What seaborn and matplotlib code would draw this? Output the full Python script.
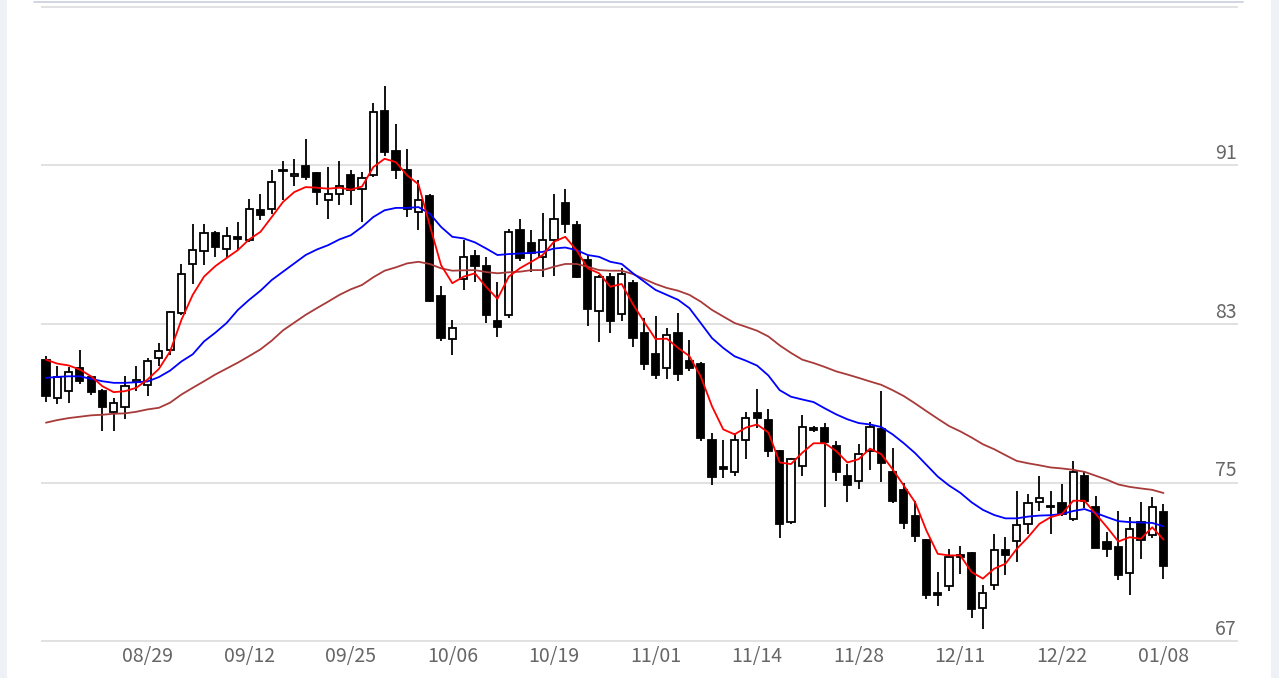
import matplotlib
matplotlib.use('Agg')
import matplotlib.pyplot as plt
import seaborn as sns
import numpy as np
import pandas as pd
from matplotlib.lines import Line2D
from matplotlib.patches import Rectangle

# ---------------- data ----------------
opens = [81.20, 79.28, 79.61, 80.78, 80.33, 79.61, 78.57, 78.80, 80.05, 79.94,
         81.29, 81.67, 83.58, 86.03, 86.69, 87.60, 86.81, 87.40, 87.23, 88.74,
         88.82, 90.78, 90.45, 90.95, 90.61, 89.24, 89.58, 90.53, 89.83, 90.50,
         93.76, 91.72, 90.78, 88.65, 89.44, 84.43, 82.24, 85.29, 86.44, 85.94,
         83.16, 83.43, 87.73, 87.10, 86.36, 87.23, 89.11, 87.98, 86.23, 83.68,
         85.39, 83.51, 85.06, 82.57, 81.49, 80.78, 82.57, 81.12, 80.99, 77.15,
         75.80, 75.54, 77.15, 78.52, 78.15, 76.59, 73.03, 75.81, 77.77, 77.77,
         76.85, 75.31, 75.07, 76.59, 77.72, 75.54, 74.63, 73.30, 72.12, 69.40,
         69.79, 71.32, 71.44, 68.67, 69.84, 71.57, 72.07, 72.91, 74.00, 73.83,
         73.96, 73.16, 75.31, 73.78, 71.99, 71.74, 70.45, 73.03, 72.36, 73.53]
highs = [81.37, 80.90, 80.81, 81.70, 80.35, 79.73, 79.28, 80.40, 80.86, 81.29,
         82.04, 83.68, 86.03, 88.07, 88.07, 87.70, 87.90, 88.15, 89.33, 89.58,
         90.75, 91.22, 91.34, 92.34, 90.65, 90.92, 91.25, 90.75, 90.66, 94.13,
         95.02, 93.10, 91.84, 90.28, 89.58, 84.92, 83.21, 87.23, 86.73, 86.36,
         85.14, 87.82, 88.32, 87.73, 88.60, 89.54, 89.83, 88.20, 86.48, 85.45,
         85.59, 85.81, 85.22, 83.30, 83.41, 82.79, 83.58, 82.21, 81.07, 77.48,
         77.15, 77.52, 78.55, 79.73, 78.72, 76.64, 76.23, 78.39, 77.85, 78.02,
         77.07, 75.93, 76.93, 78.05, 79.61, 76.72, 74.97, 74.08, 72.14, 70.48,
         71.62, 71.82, 71.48, 69.81, 72.41, 72.24, 74.58, 74.42, 75.34, 74.58,
         74.92, 76.09, 75.59, 74.33, 72.52, 73.58, 73.25, 74.00, 74.25, 73.91]
lows = [79.06, 78.94, 79.03, 79.99, 79.44, 77.60, 77.60, 78.19, 79.61, 79.36,
        80.86, 81.45, 83.46, 85.02, 85.97, 86.39, 86.31, 86.73, 87.15, 88.24,
        88.57, 89.24, 89.94, 90.25, 88.99, 88.32, 88.99, 88.99, 88.15, 90.41,
        91.50, 90.33, 88.40, 87.73, 84.10, 82.12, 81.45, 84.72, 85.14, 83.07,
        82.34, 83.29, 86.20, 85.64, 85.39, 85.42, 87.57, 85.30, 82.91, 82.07,
        82.57, 83.13, 81.84, 80.70, 80.23, 80.20, 80.11, 80.61, 77.10, 74.87,
        75.21, 75.31, 76.21, 77.73, 76.29, 72.19, 72.91, 75.35, 77.55, 73.78,
        75.07, 74.04, 74.67, 75.64, 75.04, 73.96, 72.66, 71.99, 69.11, 68.77,
        69.51, 70.40, 68.17, 67.63, 69.56, 70.31, 70.98, 72.41, 73.58, 72.41,
        73.33, 73.08, 73.70, 71.69, 71.24, 70.06, 69.31, 71.12, 72.19, 70.15]
closes = [79.36, 80.33, 80.58, 80.11, 79.56, 78.82, 79.03, 79.86, 80.15, 81.12,
          81.62, 83.60, 85.52, 86.73, 87.57, 86.89, 87.45, 87.30, 88.82, 88.49,
          90.16, 90.70, 90.58, 90.41, 89.66, 89.58, 89.99, 89.74, 90.36, 93.68,
          91.67, 90.75, 88.82, 89.28, 84.17, 82.29, 82.82, 86.36, 85.94, 83.46,
          82.87, 87.65, 86.31, 86.59, 87.23, 88.32, 88.07, 85.39, 83.75, 85.36,
          83.13, 85.52, 82.29, 81.00, 80.41, 82.46, 80.50, 80.78, 77.27, 75.26,
          75.68, 77.15, 78.24, 78.24, 76.59, 72.91, 76.18, 77.82, 77.67, 77.05,
          75.54, 74.85, 76.43, 77.82, 75.96, 74.08, 72.96, 72.29, 69.31, 69.33,
          71.24, 71.22, 68.61, 69.43, 71.57, 71.35, 72.86, 73.95, 74.20, 73.75,
          73.41, 75.54, 74.08, 71.69, 71.65, 70.35, 72.66, 72.12, 73.75, 70.78]

ma_red = [81.20, 81.00, 80.91, 80.70, 80.36, 79.86, 79.56, 79.61, 79.78, 80.20,
          80.73, 81.62, 83.21, 84.47, 85.39, 85.92, 86.33, 86.73, 87.27, 87.65,
          88.40, 89.16, 89.66, 89.91, 89.88, 89.83, 89.88, 89.78, 89.94, 90.92,
          91.34, 91.17, 90.50, 90.05, 87.98, 85.97, 85.06, 85.39, 85.56, 84.87,
          84.27, 85.39, 85.82, 86.14, 86.48, 87.15, 87.40, 86.73, 85.81, 85.56,
          84.88, 85.02, 84.00, 83.10, 82.24, 82.26, 81.79, 81.38, 80.36, 78.85,
          77.68, 77.43, 77.77, 77.93, 77.52, 76.01, 75.93, 76.50, 76.98, 76.98,
          76.59, 76.01, 76.18, 76.71, 76.43, 75.67, 74.84, 74.00, 72.57, 71.40,
          71.32, 71.32, 70.48, 70.15, 70.65, 70.90, 71.65, 72.24, 72.91, 73.25,
          73.41, 74.08, 74.08, 73.41, 72.74, 72.02, 72.24, 72.16, 72.74, 72.12]
ma_blue = [80.28, 80.33, 80.36, 80.36, 80.23, 80.11, 80.03, 80.03, 80.06, 80.10,
           80.32, 80.65, 81.11, 81.47, 82.12, 82.56, 83.05, 83.71, 84.22, 84.68,
           85.22, 85.64, 86.06, 86.48, 86.76, 86.98, 87.27, 87.48, 87.90, 88.40,
           88.74, 88.86, 88.86, 88.90, 88.57, 87.90, 87.40, 87.32, 87.12, 86.81,
           86.48, 86.53, 86.56, 86.59, 86.64, 86.81, 86.86, 86.73, 86.48, 86.39,
           86.14, 86.03, 85.56, 85.14, 84.72, 84.47, 84.22, 83.80, 83.05, 82.29,
           81.79, 81.37, 81.15, 80.90, 80.40, 79.66, 79.33, 79.19, 79.06, 78.74,
           78.44, 78.19, 78.00, 77.93, 77.80, 77.43, 76.98, 76.48, 75.89, 75.30,
           74.85, 74.48, 74.00, 73.62, 73.36, 73.19, 73.19, 73.28, 73.33, 73.35,
           73.41, 73.56, 73.66, 73.46, 73.25, 73.05, 73.00, 72.98, 72.96, 72.79]
ma_brown = [78.02, 78.15, 78.25, 78.32, 78.39, 78.42, 78.47, 78.49, 78.57, 78.69,
            78.77, 79.03, 79.44, 79.78, 80.11, 80.45, 80.75, 81.05, 81.38, 81.72,
            82.16, 82.68, 83.07, 83.46, 83.80, 84.13, 84.47, 84.75, 84.97, 85.36,
            85.69, 85.86, 86.06, 86.14, 86.03, 85.81, 85.69, 85.71, 85.72, 85.62,
            85.56, 85.61, 85.64, 85.72, 85.72, 85.89, 86.03, 86.03, 85.89, 85.72,
            85.69, 85.69, 85.52, 85.27, 85.02, 84.82, 84.68, 84.47, 84.13, 83.71,
            83.38, 83.05, 82.86, 82.66, 82.37, 81.92, 81.54, 81.20, 81.03, 80.83,
            80.61, 80.45, 80.28, 80.10, 79.93, 79.66, 79.36, 78.99, 78.60, 78.22,
            77.85, 77.58, 77.27, 76.93, 76.68, 76.38, 76.09, 75.97, 75.87, 75.76,
            75.71, 75.64, 75.54, 75.34, 75.14, 74.90, 74.78, 74.70, 74.63, 74.47]

tick_labels = ['08/29', '09/12', '09/25', '10/06', '10/19', '11/01',
               '11/14', '11/28', '12/11', '12/22', '01/08']
tick_positions = [9, 18, 27, 36, 45, 54, 63, 72, 81, 90, 99]
y_levels = [67, 75, 83, 91, 99]
y_labels = [67, 75, 83, 91]

# ---------------- figure ----------------
sns.set_theme(style='white')
plt.rcParams['font.family'] = ['Noto Sans CJK JP', 'DejaVu Sans']

W, H = 1279, 678
fig = plt.figure(figsize=(W / 100, H / 100), dpi=100)
fig.patch.set_facecolor('white')
ax = fig.add_axes([41 / W, 1 - 642 / H, (1238 - 41) / W, (642 - 6) / H])
ax.set_facecolor('white')

idx = np.arange(len(closes))
o = np.array(opens); c = np.array(closes)
hi = np.array(highs); lo = np.array(lows)
up = c >= o

# wicks and bodies
ax.vlines(idx, lo, hi, color='black', linewidth=1.3, zorder=2)
ax.bar(idx, np.maximum(np.abs(c - o), 0.02), bottom=np.minimum(o, c), width=0.64,
       color=np.where(up, 'white', 'black'), edgecolor='black', linewidth=1.3, zorder=2.5)

df = pd.DataFrame({'i': idx, 'red': ma_red, 'blue': ma_blue, 'brown': ma_brown})
sns.lineplot(data=df, x='i', y='brown', color='#a83a3a', linewidth=1.3, ax=ax, zorder=3)
sns.lineplot(data=df, x='i', y='blue', color='#0000ff', linewidth=1.3, ax=ax, zorder=3)
sns.lineplot(data=df, x='i', y='red', color='#ff0000', linewidth=1.3, ax=ax, zorder=3)

ax.set_xlim(-0.44, 105.6)
ax.set_ylim(66.95, 99.05)
ax.set_xlabel('')
ax.set_ylabel('')
for s in ax.spines.values():
    s.set_visible(False)

ax.set_yticks(y_levels)
ax.set_yticklabels([])
ax.tick_params(axis='y', length=0)
ax.yaxis.grid(True, color='#dedede', linewidth=1.3)
ax.xaxis.grid(False)

ax.set_xticks(tick_positions)
ax.set_xticklabels(tick_labels)
ax.tick_params(axis='x', length=15, width=1, color='#e8e8e8', labelcolor='#666666',
               labelsize=14, pad=-12, direction='out')

for v in y_labels:
    ax.annotate(str(v), xy=(1.0, v), xycoords=('axes fraction', 'data'),
                xytext=(-1, 4.5), textcoords='offset points', ha='right',
                va='baseline', fontsize=14, color='#666666')

# page decorations
fig.patches.append(Rectangle((0, 0), 7 / W, 1, transform=fig.transFigure,
                             facecolor='#eef1f6', edgecolor='none', zorder=0))
fig.patches.append(Rectangle((1271 / W, 0), 8 / W, 1, transform=fig.transFigure,
                             facecolor='#eef1f6', edgecolor='none', zorder=0))
fig.lines.append(Line2D([34 / W, 1243 / W], [1 - 1.5 / H, 1 - 1.5 / H],
                        transform=fig.transFigure, color='#c8cede', linewidth=1.2))

fig.savefig('out.png', dpi=100)
